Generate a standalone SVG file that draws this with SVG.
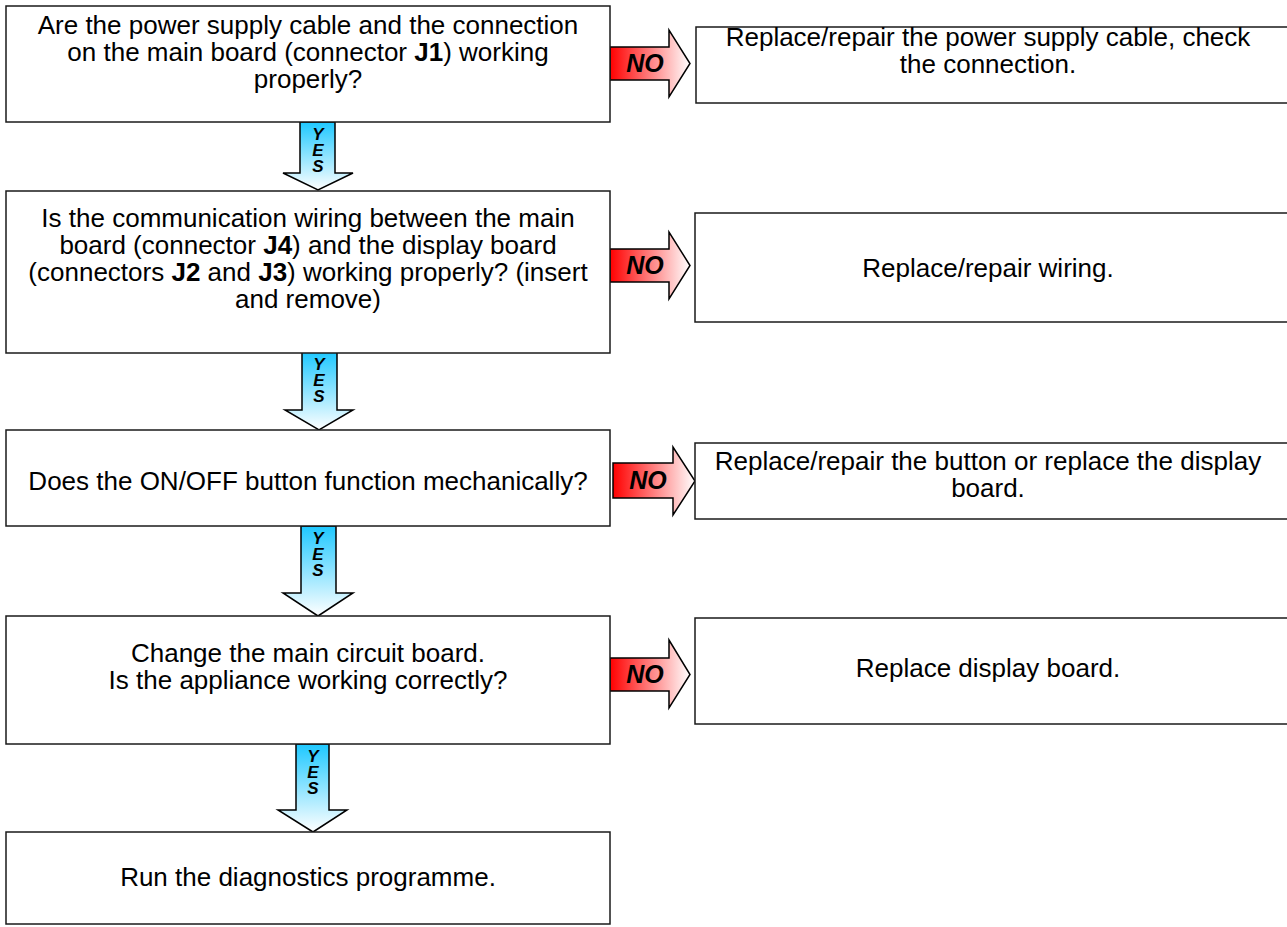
<svg xmlns="http://www.w3.org/2000/svg" width="1287" height="927" viewBox="0 0 1287 927">
  <defs>
    <linearGradient id="noFill" x1="0" y1="0" x2="1" y2="0">
      <stop offset="0" stop-color="#ff0000"/>
      <stop offset="1" stop-color="#ffffff"/>
    </linearGradient>
    <linearGradient id="yesFill" x1="0" y1="0" x2="0" y2="1">
      <stop offset="0" stop-color="#1ec8ff"/>
      <stop offset="1" stop-color="#ffffff"/>
    </linearGradient>
    <style>
      .box { fill: #ffffff; stroke: #1a1a1a; stroke-width: 1.5; }
      .txt { font-family: "Liberation Sans", Arial, sans-serif; font-size: 26px; fill: #000000; text-anchor: middle; }
      .b { font-weight: bold; }
      .no { fill: url(#noFill); stroke: #000000; stroke-width: 1.5; stroke-linejoin: miter; }
      .yes { fill: url(#yesFill); stroke: #000000; stroke-width: 1.5; stroke-linejoin: miter; }
      .nolbl { font-family: "Liberation Sans", Arial, sans-serif; font-size: 25px; font-weight: bold; font-style: italic; fill: #000000; text-anchor: middle; }
      /* stacked upright letters reading downwards */
      .yeslbl { font-family: "Liberation Sans", Arial, sans-serif; font-size: 17px; font-weight: bold; font-style: italic; fill: #000000; writing-mode: vertical-rl; text-orientation: upright; letter-spacing: -3px; }
    </style>
  </defs>

  <!-- connectors: block arrows between steps -->
  <g id="connectors">
    <g id="no1">
      <path class="no" d="M610,47 H669 V30 L690,63.5 L669,97 V80 H610 Z"/>
      <text class="nolbl" x="645" y="72">NO</text>
    </g>
    <g id="no2">
      <path class="no" d="M610,249 H669 V232 L690,265.5 L669,299 V282 H610 Z"/>
      <text class="nolbl" x="645" y="274">NO</text>
    </g>
    <g id="no3">
      <path class="no" d="M613,463 H673 V447 L695,481 L673,515 V498 H613 Z"/>
      <text class="nolbl" x="648" y="489">NO</text>
    </g>
    <g id="no4">
      <path class="no" d="M610,658 H669 V640 L690,674.5 L669,708 V691 H610 Z"/>
      <text class="nolbl" x="645" y="683">NO</text>
    </g>

    <g id="yes1">
      <path class="yes" d="M300,122 V173 H283 L318,190 L353,173 H335 V122 Z"/>
      <text class="yeslbl" x="318" y="125">YES</text>
    </g>
    <g id="yes2">
      <path class="yes" d="M302,352 V410 H285 L319,430 L353,410 H337 V352 Z"/>
      <text class="yeslbl" x="319" y="355">YES</text>
    </g>
    <g id="yes3">
      <path class="yes" d="M301,526 V593 H283 L318,616 L353,593 H336 V526 Z"/>
      <text class="yeslbl" x="318" y="529">YES</text>
    </g>
    <g id="yes4">
      <path class="yes" d="M296,744 V810 H278 L313,832 L347,810 H329 V744 Z"/>
      <text class="yeslbl" x="313" y="747">YES</text>
    </g>
  </g>

  <!-- question steps -->
  <g id="q1">
    <rect class="box" x="6" y="6" width="604" height="116"/>
    <text class="txt" x="308" y="34">Are the power supply cable and the connection</text>
    <text class="txt" x="308" y="61">on the main board (connector <tspan class="b">J1</tspan>) working</text>
    <text class="txt" x="308" y="88">properly?</text>
  </g>
  <g id="q2">
    <rect class="box" x="6" y="191" width="604" height="162"/>
    <text class="txt" x="308" y="227">Is the communication wiring between the main</text>
    <text class="txt" x="308" y="254">board (connector <tspan class="b">J4</tspan>) and the display board</text>
    <text class="txt" x="308" y="281">(connectors <tspan class="b">J2</tspan> and <tspan class="b">J3</tspan>) working properly? (insert</text>
    <text class="txt" x="308" y="308">and remove)</text>
  </g>
  <g id="q3">
    <rect class="box" x="6" y="430" width="604" height="96"/>
    <text class="txt" x="308" y="490">Does the ON/OFF button function mechanically?</text>
  </g>
  <g id="q4">
    <rect class="box" x="6" y="616" width="604" height="128"/>
    <text class="txt" x="308" y="662">Change the main circuit board.</text>
    <text class="txt" x="308" y="689">Is the appliance working correctly?</text>
  </g>
  <g id="end">
    <rect class="box" x="6" y="832" width="604" height="92"/>
    <text class="txt" x="308" y="886">Run the diagnostics programme.</text>
  </g>

  <!-- remedy steps -->
  <g id="r1">
    <rect class="box" x="696" y="27" width="600" height="76"/>
    <text class="txt" x="988" y="46">Replace/repair the power supply cable, check</text>
    <text class="txt" x="988" y="73">the connection.</text>
  </g>
  <g id="r2">
    <rect class="box" x="695" y="213" width="600" height="109"/>
    <text class="txt" x="988" y="277">Replace/repair wiring.</text>
  </g>
  <g id="r3">
    <rect class="box" x="695" y="443" width="600" height="76"/>
    <text class="txt" x="988" y="470">Replace/repair the button or replace the display</text>
    <text class="txt" x="988" y="497">board.</text>
  </g>
  <g id="r4">
    <rect class="box" x="695" y="618" width="600" height="106"/>
    <text class="txt" x="988" y="677">Replace display board.</text>
  </g>
</svg>
